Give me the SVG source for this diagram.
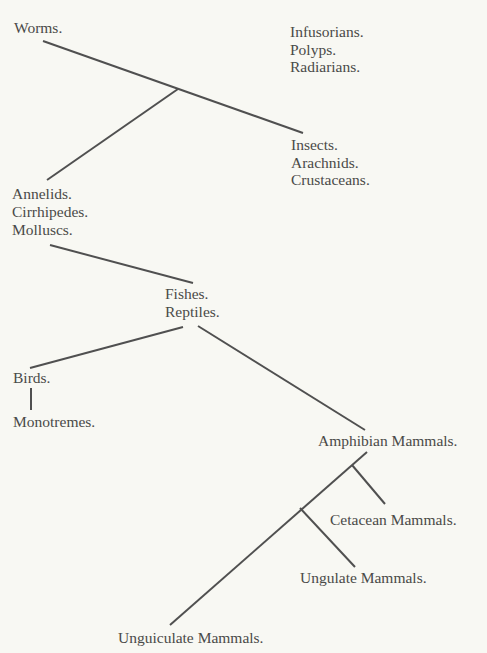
<svg xmlns="http://www.w3.org/2000/svg" width="487" height="653" viewBox="0 0 487 653">
<style>
.t{font-family:"Liberation Serif","Times New Roman",serif;font-size:15.5px;fill:#4a4a48}
.c line{stroke:#505050;stroke-width:2;stroke-linecap:butt}
</style>
<rect width="487" height="653" fill="#f8f8f3"/>
<g class="c" id="connectors">
<line x1="43" y1="41" x2="303" y2="133"/>
<line x1="178" y1="89" x2="47" y2="180"/>
<line x1="50" y1="245" x2="193" y2="283"/>
<line x1="30" y1="368" x2="183" y2="327"/>
<line x1="198" y1="326" x2="365" y2="430"/>
<line x1="31" y1="388" x2="31" y2="410"/>
<line x1="367" y1="452" x2="170" y2="625"/>
<line x1="352" y1="465" x2="385" y2="504"/>
<line x1="300" y1="508" x2="355" y2="567"/>
</g>
<g id="worms"><text class="t" x="14" y="33">Worms.</text></g>
<g id="infusorians"><text class="t" x="290" y="37">Infusorians.</text><text class="t" x="290" y="54.5">Polyps.</text><text class="t" x="290" y="72">Radiarians.</text></g>
<g id="insects"><text class="t" x="291" y="150">Insects.</text><text class="t" x="291" y="167.5">Arachnids.</text><text class="t" x="291" y="185">Crustaceans.</text></g>
<g id="annelids"><text class="t" x="12" y="199">Annelids.</text><text class="t" x="12" y="217">Cirrhipedes.</text><text class="t" x="12" y="235">Molluscs.</text></g>
<g id="fishes"><text class="t" x="165" y="299">Fishes.</text><text class="t" x="165" y="317">Reptiles.</text></g>
<g id="birds"><text class="t" x="13" y="383">Birds.</text></g>
<g id="monotremes"><text class="t" x="13" y="427">Monotremes.</text></g>
<g id="amphibian"><text class="t" x="318" y="446">Amphibian Mammals.</text></g>
<g id="cetacean"><text class="t" x="330" y="525">Cetacean Mammals.</text></g>
<g id="ungulate"><text class="t" x="300" y="583">Ungulate Mammals.</text></g>
<g id="unguiculate"><text class="t" x="118" y="643">Unguiculate Mammals.</text></g>
</svg>
